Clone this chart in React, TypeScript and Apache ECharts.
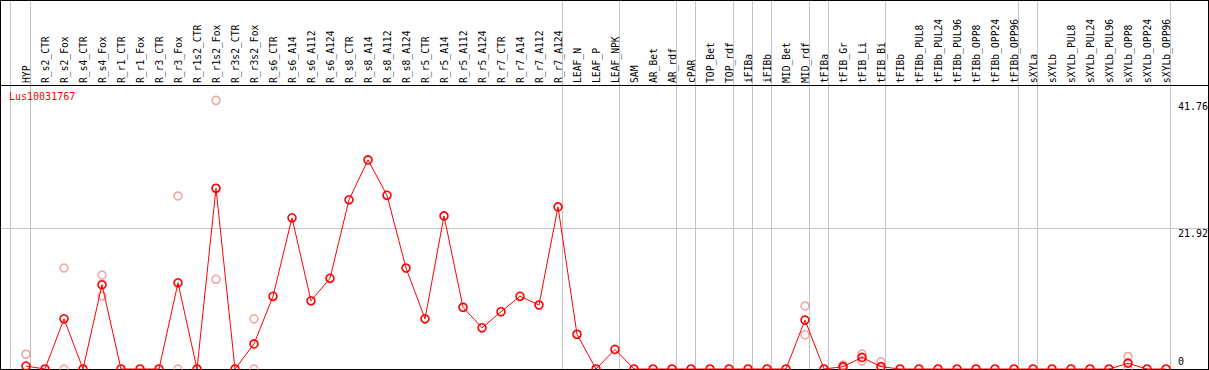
import React, { useEffect, useRef } from "react";
import * as echarts from "echarts";

const chartTitle = "Lus10031767";

const categories = [
  "HYP", "R_s2_CTR", "R_s2_Fox", "R_s4_CTR", "R_s4_Fox", "R_r1_CTR", "R_r1_Fox",
  "R_r3_CTR", "R_r3_Fox", "R_r1s2_CTR", "R_r1s2_Fox", "R_r3s2_CTR", "R_r3s2_Fox",
  "R_s6_CTR", "R_s6_A14", "R_s6_A112", "R_s6_A124", "R_s8_CTR", "R_s8_A14",
  "R_s8_A112", "R_s8_A124", "R_r5_CTR", "R_r5_A14", "R_r5_A112", "R_r5_A124",
  "R_r7_CTR", "R_r7_A14", "R_r7_A112", "R_r7_A124", "LEAF_N", "LEAF_P", "LEAF_NPK",
  "SAM", "AR_Bet", "AR_rdf", "cPAR", "TOP_Bet", "TOP_rdf", "iFIBa", "iFIBb",
  "MID_Bet", "MID_rdf", "tFIBa", "tFIB_Gr", "tFIB_Li", "tFIB_Bi", "tFIBb",
  "tFIBb_PUL8", "tFIBb_PUL24", "tFIBb_PUL96", "tFIBb_OPP8", "tFIBb_OPP24",
  "tFIBb_OPP96", "sXYLa", "sXYLb", "sXYLb_PUL8", "sXYLb_PUL24", "sXYLb_PUL96",
  "sXYLb_OPP8", "sXYLb_OPP24", "sXYLb_OPP96",
];

const meanValues = [
  0.45, 0, 7.8, 0, 13.1, 0, 0, 0, 13.4, 0, 28.1, 0, 3.9,
  11.3, 23.5, 10.6, 14.1, 26.3, 32.5, 27.0, 15.7, 7.8, 23.8, 9.6, 6.4,
  8.9, 11.3, 9.95, 25.2, 5.4, 0, 3.05,
  0, 0, 0, 0, 0, 0, 0, 0, 0,
  7.6, 0, 0.36, 1.8, 0.36,
  0, 0, 0, 0, 0, 0, 0, 0, 0, 0, 0, 0,
  0.9, 0, 0,
];

// replicate samples (null = not visible / none)
const replicateA: (number | null)[] = [
  2.3, null, 15.7, null, 14.6, null, null, null, 26.9, null, 41.76, null, 7.8,
  null, null, null, null, null, null, null, null, null, null, null, null,
  null, null, null, null, null, null, null,
  null, null, null, null, null, null, null, null, null,
  9.8, null, 0.62, 2.33, 1.1,
  null, null, null, null, null, null, null, null, null, null, null, null,
  1.95, null, null,
];
const replicateB: (number | null)[] = [
  null, null, 0, null, 11.35, null, null, null, 0, null, 13.95, null, 0,
  null, null, null, null, null, null, null, null, null, null, null, null,
  null, null, null, null, null, null, null,
  null, null, null, null, null, null, null, null, null,
  5.3, null, 0.1, 1.27, 0,
  null, null, null, null, null, null, null, null, null, null, null, null,
  0, null, null,
];

const yTickValues = [0, 21.92, 41.76];
const yGridValues = [21.92];
const groupEndIndices = [0, 28, 31, 34, 35, 37, 38, 39, 41, 42, 45, 52, 53, 60];

const W = 1209;
const H = 370;

export default function App() {
  const ref = useRef<HTMLDivElement>(null);

  useEffect(() => {
    const el = ref.current;
    if (!el) return;
    const chart = echarts.init(el, null, { renderer: "svg" });
    const mono = "'DejaVu Sans Mono', 'Liberation Mono', monospace";
    const red = "#ff0000";
    const pink = "#ec8c8c";
    const gray = "#c4c4c4";

    const scatterData: number[][] = [];
    replicateA.forEach((v, i) => {
      if (v !== null) scatterData.push([i, v]);
    });
    replicateB.forEach((v, i) => {
      if (v !== null) scatterData.push([i, v]);
    });

    chart.setOption({
      animation: false,
      textStyle: { fontFamily: mono },
      title: {
        text: chartTitle,
        left: 9,
        top: 91,
        padding: 0,
        textStyle: { color: red, fontFamily: mono, fontSize: 10, fontWeight: "normal" },
      },
      grid: { left: 16.5, right: 33.5, top: 85, bottom: 1, containLabel: false },
      xAxis: {
        type: "category",
        data: categories,
        position: "top",
        boundaryGap: true,
        axisLine: { show: false },
        axisTick: { show: false },
        splitLine: { show: false },
        axisLabel: {
          interval: 0,
          rotate: 90,
          margin: 2,
          fontFamily: mono,
          fontSize: 9.7,
          color: "#000",
        },
      },
      yAxis: {
        type: "value",
        min: 0,
        max: 44.15,
        position: "right",
        axisLine: { show: false },
        axisTick: { show: false },
        axisLabel: { show: false },
        splitLine: { show: false },
      },
      series: [
        {
          type: "scatter",
          data: scatterData,
          symbol: "circle",
          symbolSize: 8,
          clip: false,
          z: 2,
          itemStyle: { color: "rgba(0,0,0,0)", borderColor: pink, borderWidth: 1.5 },
        },
        {
          type: "line",
          data: meanValues,
          symbol: "circle",
          symbolSize: 8,
          showAllSymbol: true,
          clip: false,
          z: 3,
          lineStyle: { color: red, width: 1 },
          itemStyle: { color: "rgba(0,0,0,0)", borderColor: red, borderWidth: 1.6 },
        },
      ],
    });

    const px = (i: number) => chart.convertToPixel({ xAxisIndex: 0 }, i) as number;
    const py = (v: number) => chart.convertToPixel({ yAxisIndex: 0 }, v) as number;
    const bottomY = Math.round(py(0));

    const graphics: any[] = [];
    // gray vertical group separators
    const sepXs = [Math.round(px(0)) - 16, ...groupEndIndices.map((i) => Math.round(px(i)) + 4)];
    sepXs.forEach((x) => {
      graphics.push({
        type: "line",
        shape: { x1: x + 0.5, y1: 0, x2: x + 0.5, y2: bottomY },
        style: { stroke: gray, lineWidth: 1 },
        z: 0,
      });
    });
    // horizontal gray grid line(s)
    yGridValues.forEach((v) => {
      const y = Math.round(py(v)) + 0.5;
      graphics.push({
        type: "line",
        shape: { x1: 0, y1: y, x2: W, y2: y },
        style: { stroke: gray, lineWidth: 1 },
        z: 0,
      });
    });
    // black frame
    const black = "#000";
    const frame = [
      { x1: 0, y1: 0.5, x2: W, y2: 0.5 },
      { x1: 0.5, y1: 0, x2: 0.5, y2: H },
      { x1: W - 0.5, y1: 0, x2: W - 0.5, y2: H },
      { x1: 0, y1: 85.5, x2: W, y2: 85.5 },
      { x1: 0, y1: bottomY + 0.5, x2: W, y2: bottomY + 0.5 },
    ];
    frame.forEach((s) => {
      graphics.push({ type: "line", shape: s, style: { stroke: black, lineWidth: 1 }, z: 1 });
    });
    // y tick labels
    yTickValues.forEach((v) => {
      const y = py(v);
      const isZero = v === 0;
      graphics.push({
        type: "text",
        x: 1178,
        y: isZero ? y - 3 : y + 1,
        z: 1,
        style: {
          text: String(v),
          fill: "#000",
          font: `10px ${mono}`,
          align: "left",
          verticalAlign: isZero ? "bottom" : "top",
        },
      });
    });

    chart.setOption({ graphic: graphics });

    return () => {
      chart.dispose();
    };
  }, []);

  return (
    <div
      ref={ref}
      style={{ position: "fixed", left: 0, top: 0, width: W, height: H, background: "#fff" }}
    />
  );
}
